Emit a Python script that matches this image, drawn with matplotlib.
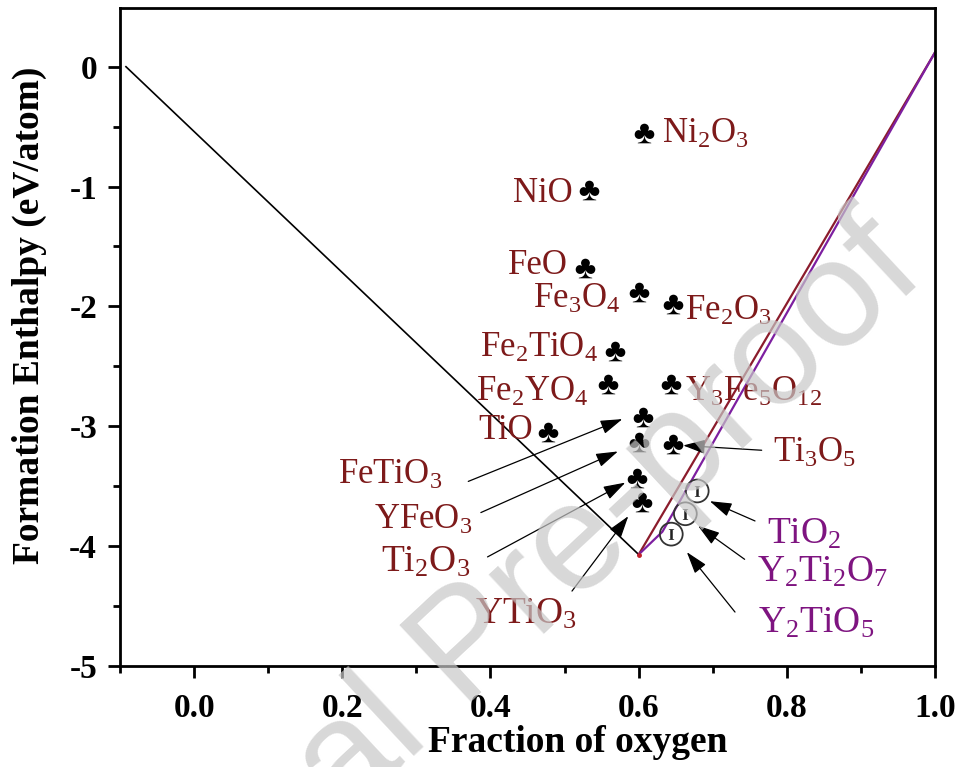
import numpy as np
import matplotlib
matplotlib.use('Agg')
import matplotlib.pyplot as plt

plt.rcParams['font.family'] = ['Liberation Serif', 'DejaVu Serif']
plt.rcParams['mathtext.fontset'] = 'custom'
plt.rcParams['mathtext.rm'] = 'Liberation Serif'
plt.rcParams['mathtext.it'] = 'Liberation Serif:italic'
plt.rcParams['mathtext.bf'] = 'Liberation Serif:bold'
plt.rcParams['axes.unicode_minus'] = False

# convex hull lines
hull_x = [-0.092, 0.60]
hull_y = [0.0, -4.07]
fe_hull_x = [0.60, 1.0]
fe_hull_y = [-4.07, 0.12]
ti_hull_x = [0.60, 0.632, 1.0]
ti_hull_y = [-4.07, -3.88, 0.12]

# compounds shown with club symbols
club_names = ['Ni$_2$O$_3$', 'NiO', 'FeO', 'Fe$_3$O$_4$', 'Fe$_2$O$_3$',
              'Fe$_2$TiO$_4$', 'Fe$_2$YO$_4$', 'Y$_3$Fe$_5$O$_{12}$', 'TiO',
              'FeTiO$_3$', 'YFeO$_3$', 'Ti$_3$O$_5$', 'Ti$_2$O$_3$', 'YTiO$_3$']
club_x = [0.607, 0.533, 0.528, 0.601, 0.646, 0.568, 0.558, 0.644, 0.477,
          0.606, 0.601, 0.646, 0.598, 0.605]
club_y = [-0.55, -1.03, -1.68, -1.88, -1.98, -2.37, -2.65, -2.65, -3.05,
          -2.92, -3.13, -3.15, -3.43, -3.63]

# Y-Ti-O compounds on the hull
yti_names = ['TiO$_2$', 'Y$_2$Ti$_2$O$_7$', 'Y$_2$TiO$_5$']
yti_x = [0.679, 0.663, 0.644]
yti_y = [-3.54, -3.73, -3.90]

# where the labels go: (x, y, ha, arrow tail/head or None)
club_lab = [
    (0.632, -0.633, 'left', None),
    (0.511, -1.125, 'right', None),
    (0.505, -1.733, 'right', None),
    (0.575, -2.01, 'right', None),
    (0.663, -2.115, 'left', None),
    (0.545, -2.42, 'right', None),
    (0.532, -2.79, 'right', None),
    (0.663, -2.79, 'left', None),
    (0.457, -3.11, 'right', None),
    (0.194, -3.48, 'left', ((0.370, -3.46), (0.578, -2.94))),
    (0.375, -3.86, 'right', ((0.387, -3.72), (0.572, -3.21))),
    (0.781, -3.30, 'left', ((0.766, -3.20), (0.660, -3.16))),
    (0.373, -4.21, 'right', ((0.396, -4.09), (0.582, -3.47))),
    (0.517, -4.65, 'right', ((0.510, -4.375), (0.586, -3.75))),
]
yti_lab = [
    (0.773, -3.98, ((0.757, -3.79), (0.696, -3.625))),
    (0.760, -4.30, ((0.743, -4.11), (0.680, -3.83))),
    (0.761, -4.72, ((0.730, -4.55), (0.665, -4.05))),
]

red_txt = '#7d1a1a'
purple_txt = '#7e1480'

fig = plt.figure(figsize=(9.61, 7.67), dpi=100)
ax = fig.add_axes([0.1249, 0.1317, 0.8481, 0.8579])

ax.plot(hull_x, hull_y, color='black', lw=1.2, zorder=2)
ax.plot(fe_hull_x, fe_hull_y, color='#8b1c2c', lw=1.6, zorder=2)
ax.plot(ti_hull_x, ti_hull_y, color='#7d1fa0', lw=1.6, zorder=2)
ax.plot(hull_x[-1], hull_y[-1], 'o', color='#c0202a', ms=2.5, zorder=3)

ax.scatter(club_x, club_y, marker=r'$\clubsuit$', s=200, color='black',
           lw=0, zorder=4)
ax.scatter(yti_x, yti_y, marker='o', s=270, facecolors='none',
           edgecolors='#333333', linewidths=1.3, zorder=4)
ax.scatter(yti_x, yti_y, marker=r'$\mathbf{I}$', s=60, color='#222222',
           lw=0, zorder=4)

arrow_kw = dict(arrowstyle='-|>,head_length=0.75,head_width=0.24', color='black',
                lw=0.9, shrinkA=0, shrinkB=0, mutation_scale=18)

for name, (lx, ly, ha, arr) in zip(club_names, club_lab):
    big = name in ('Ti$_2$O$_3$', 'YTiO$_3$')
    ax.text(lx, ly, name, ha=ha, va='baseline', color=red_txt,
            fontsize=27 if big else 25, zorder=5)
    if arr is not None:
        ax.annotate('', xy=arr[1], xytext=arr[0], arrowprops=arrow_kw, zorder=5)

for name, (lx, ly, arr) in zip(yti_names, yti_lab):
    ax.text(lx, ly, name, ha='left', va='baseline', color=purple_txt,
            fontsize=27, zorder=5)
    ax.annotate('', xy=arr[1], xytext=arr[0], arrowprops=arrow_kw, zorder=5)

ax.set_xlim(-0.1, 1.0)
ax.set_ylim(-5, 0.49)
ax.set_xticks(np.arange(0, 1.01, 0.2))
ax.set_xticks(np.arange(-0.1, 1.01, 0.1), minor=True)
ax.set_yticks(np.arange(-5, 0.1, 1))
ax.set_yticks(np.arange(-4.5, 0.1, 1), minor=True)
ax.set_xticklabels(['0.0', '0.2', '0.4', '0.6', '0.8', '1.0'])
ax.set_yticklabels(['-5', '-4', '-3', '-2', '-1', '0'])

for s in ax.spines.values():
    s.set_linewidth(2.0)
ax.tick_params(which='major', direction='out', length=8.5, width=2.0,
               labelsize=24)
ax.tick_params(which='minor', direction='out', length=5, width=2.0)
ax.tick_params(axis='x', pad=11)
ax.tick_params(axis='y', pad=8)
for lab in ax.get_xticklabels() + ax.get_yticklabels():
    lab.set_fontweight('bold')

ax.set_xlabel('Fraction of oxygen', fontsize=27, fontweight='bold')
ax.set_ylabel('Formation Enthalpy (eV/atom)', fontsize=27, fontweight='bold')
ax.xaxis.set_label_coords(0.561, -0.09)
ax.yaxis.set_label_coords(-0.09, 0.533)

# watermark, running off the lower-left corner
fig.text(0.489, 0.1526, 'Journal Pre-proof', family='Liberation Sans',
         fontsize=110, color='#c8c8c8', alpha=0.7, rotation=43,
         ha='center', va='center', rotation_mode='anchor', zorder=10)

fig.savefig('out.png', dpi=100)
